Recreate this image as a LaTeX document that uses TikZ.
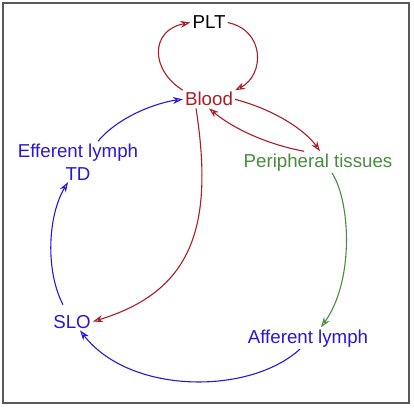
\documentclass[tikz,border=0pt]{standalone}
\usepackage{fontspec}
\setmainfont{Liberation Sans}
\usepackage{tikz}
\usetikzlibrary{arrows.meta}

\definecolor{bloodred}{RGB}{172,28,40}
\definecolor{tissuegreen}{RGB}{72,140,62}
\definecolor{lymphblue}{RGB}{42,22,215}

\begin{document}
\begin{tikzpicture}[x=1pt, y=-1pt,
    every node/.style={inner sep=2pt, anchor=base, font=\fontsize{18.7}{22}\selectfont},
    flow/.style={line width=1.1pt, -{Stealth[open, length=10pt, width=7pt]}}]
            \useasboundingbox (0,0) rectangle (414,409);
            \draw[line width=1.5pt, black!65] (3,3) rectangle (409,403);

            % Nodos
            \node (plt) at (209,29) {PLT};
            \node[text=bloodred] (blood) at (209,106) {Blood};
            \node[text=tissuegreen] (pt) at (318,167) {Peripheral tissues};
            \node[text=lymphblue] (eff) at (78,157) {Efferent lymph};
            \node[text=lymphblue] (td) at (78,180) {TD};
            \node[text=lymphblue] (slo) at (72,328) {SLO};
            \node[text=lymphblue] (al) at (308,343) {Afferent lymph};

            % Flechas
            \draw[flow, bloodred] (blood.north west) .. controls (150,70) and (150,30) .. (plt.west);
            \draw[flow, bloodred] (plt.east) .. controls (265,30) and (265,75) .. (blood.north east);
            \draw[flow, bloodred] (blood.east) .. controls (275,110) and (305,130) .. ([xshift=2pt]pt.north);
            \draw[flow, bloodred] ([xshift=-14pt]pt.north) .. controls (270,145) and (235,130) .. (blood.south);
            \draw[flow, bloodred] ([xshift=-13pt]blood.south) .. controls (215,230) and (190,292) .. (slo.east);
            \draw[flow, tissuegreen] ([xshift=14pt]pt.south) .. controls (350,200) and (355,280) .. ([xshift=13pt]al.north);
            \draw[flow, lymphblue] ([xshift=-8pt]al.south) .. controls (250,395) and (130,395) .. ([xshift=8pt]slo.south);
            \draw[flow, lymphblue] ([xshift=-9pt,yshift=8pt]slo.north) .. controls (45,270) and (48,215) .. ([xshift=-10pt]td.south);
            \draw[flow, lymphblue] ([xshift=20pt]eff.north) .. controls (120,115) and (160,102) .. (blood.west);
\end{tikzpicture}
\end{document}
